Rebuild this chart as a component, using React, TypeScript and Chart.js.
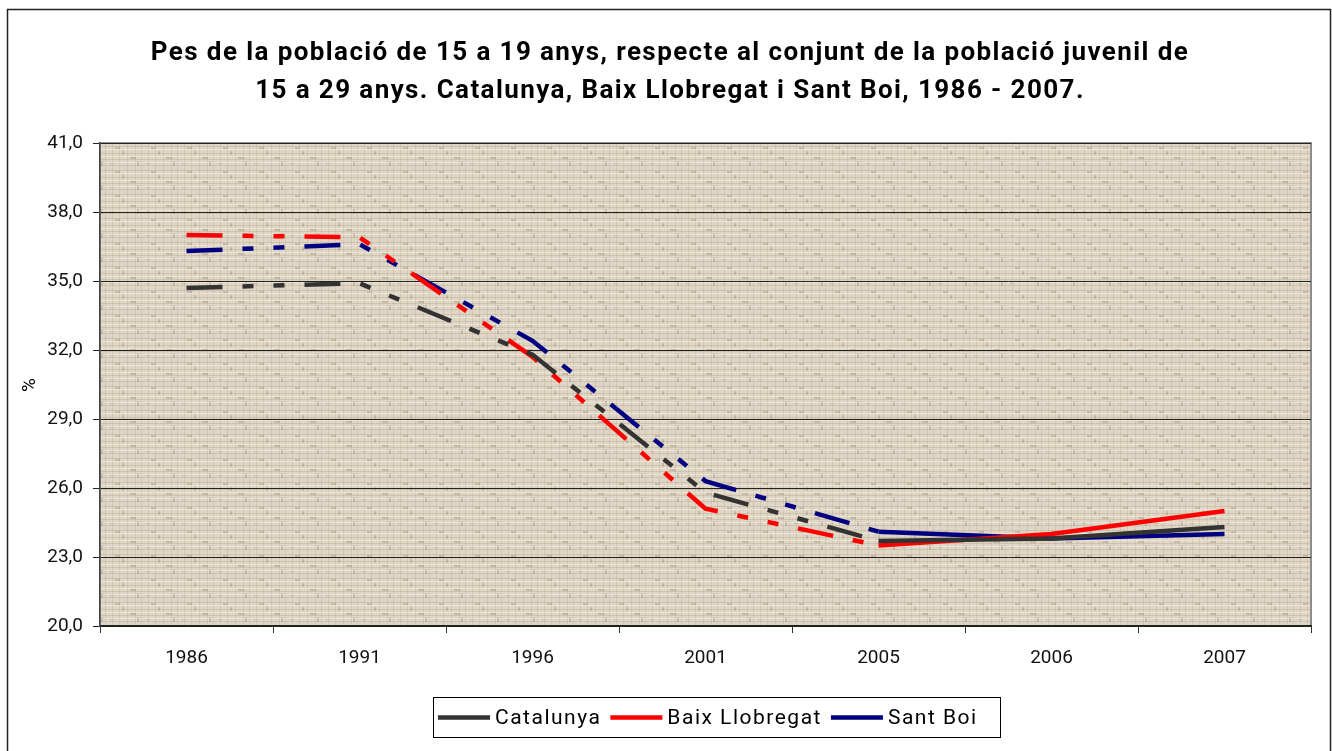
import React, { useEffect, useRef } from "react";
import { Chart, registerables } from "chart.js";

Chart.register(...registerables);

const years = ["1986", "1991", "1996", "2001", "2005", "2006", "2007"];
const catalunya = [34.7, 34.9, 31.8, 25.8, 23.7, 23.8, 24.3];
const baixLlobregat = [37.0, 36.9, 31.7, 25.1, 23.5, 24.0, 25.0];
const santBoi = [36.3, 36.6, 32.4, 26.3, 24.1, 23.8, 24.0];
const seriesNames = ["Catalunya", "Baix Llobregat", "Sant Boi"];
const seriesColors = ["#333333", "#FF0000", "#000080"];
const titleLines = [
  "Pes de la població de 15 a 19 anys, respecte al conjunt de la població juvenil de",
  "15 a 29 anys. Catalunya, Baix Llobregat i Sant Boi, 1986 - 2007.",
];
const yAxisTitle = "%";
const lastDashedIndex = 4;

const FONT = "Roboto, 'DejaVu Sans', sans-serif";
const DASH = [36, 20, 11, 20, 11, 20];

function makePattern(ctx: CanvasRenderingContext2D) {
  const c = document.createElement("canvas");
  c.width = 36;
  c.height = 24;
  const g = c.getContext("2d")!;
  g.fillStyle = "#DFD6C5";
  g.fillRect(0, 0, 36, 24);
  g.fillStyle = "rgba(150,128,105,0.22)";
  [2, 9, 15, 21].forEach((r) => g.fillRect(0, r, 36, 1));
  g.fillStyle = "rgba(150,128,105,0.16)";
  [4, 11, 19, 27, 33].forEach((col) => g.fillRect(col, 0, 1, 24));
  g.fillStyle = "rgba(255,255,250,0.35)";
  [5, 12, 18].forEach((r) => g.fillRect(0, r, 36, 1));
  g.fillStyle = "rgba(110,92,75,0.22)";
  [[7, 3, 5, 2], [22, 13, 6, 2], [14, 7, 2, 4], [29, 17, 2, 5], [2, 19, 4, 1]].forEach(([x, y, w, h]) =>
    g.fillRect(x, y, w, h)
  );
  return ctx.createPattern(c, "repeat");
}

const decorPlugin = {
  id: "decor",
  beforeDraw(chart: any) {
    const { ctx, chartArea } = chart;
    ctx.save();
    ctx.fillStyle = "#FFFFFF";
    ctx.fillRect(0, 0, chart.width, chart.height);
    const pat = makePattern(ctx);
    ctx.fillStyle = pat || "#DFD6C5";
    ctx.fillRect(chartArea.left, chartArea.top, chartArea.right - chartArea.left, chartArea.bottom - chartArea.top);
    ctx.strokeStyle = "#8C8C8C";
    ctx.lineWidth = 2;
    ctx.strokeRect(chartArea.left, chartArea.top, chartArea.right - chartArea.left, chartArea.bottom - chartArea.top);
    ctx.restore();
  },
  afterDraw(chart: any) {
    const { ctx } = chart;
    ctx.save();
    // outer frame
    ctx.strokeStyle = "#222222";
    ctx.lineWidth = 1.5;
    ctx.strokeRect(7.5, 9.5, 1323, 780);
    // title
    ctx.fillStyle = "#000000";
    ctx.font = `bold 26px ${FONT}`;
    (ctx as any).letterSpacing = "1.4px";
    ctx.textAlign = "center";
    ctx.textBaseline = "middle";
    ctx.fillText(titleLines[0], 670, 53);
    ctx.fillText(titleLines[1], 670, 91);
    (ctx as any).letterSpacing = "0px";
    // y axis title
    ctx.save();
    ctx.translate(30, 385);
    ctx.rotate(-Math.PI / 2);
    ctx.font = `19px ${FONT}`;
    ctx.fillText(yAxisTitle, 0, 0);
    ctx.restore();
    // legend
    ctx.font = `21px ${FONT}`;
    (ctx as any).letterSpacing = "1.5px";
    ctx.textAlign = "left";
    ctx.strokeStyle = "#000000";
    ctx.lineWidth = 1;
    ctx.strokeRect(433.5, 697.5, 567, 40);
    let x = 438;
    const y = 717.5;
    seriesNames.forEach((name, i) => {
      ctx.strokeStyle = seriesColors[i];
      ctx.lineWidth = 4.5;
      ctx.beginPath();
      ctx.moveTo(x, y);
      ctx.lineTo(x + 52, y);
      ctx.stroke();
      x += 57;
      ctx.fillStyle = "#000000";
      ctx.fillText(name, x, y + 1);
      x += ctx.measureText(name).width + 9;
    });
    ctx.restore();
  },
};

export default function App() {
  const ref = useRef<HTMLCanvasElement>(null);
  useEffect(() => {
    const data = [catalunya, baixLlobregat, santBoi];
    const chart = new Chart(ref.current!, {
      type: "line",
      data: {
        labels: years,
        datasets: data.map((d, i) => ({
          label: seriesNames[i],
          data: d,
          borderColor: seriesColors[i],
          backgroundColor: seriesColors[i],
          borderWidth: 4.5,
          pointRadius: 0,
          tension: 0,
          fill: false,
          borderCapStyle: "butt",
          segment: {
            borderDash: (ctx: any) => (ctx.p0DataIndex < lastDashedIndex ? DASH : []),
          },
        })),
      },
      options: {
        animation: false,
        responsive: false,
        devicePixelRatio: 1,
        layout: { padding: { left: 0, top: 143, right: 21, bottom: 75 } },
        plugins: {
          legend: { display: false },
          title: { display: false },
          tooltip: { enabled: false },
        },
        scales: {
          x: {
            offset: true,
            afterFit: (s: any) => {
              s.height = 50;
            },
            grid: {
              offset: true,
              drawOnChartArea: false,
              drawTicks: true,
              tickLength: 7,
              color: "#333333",
            },
            border: { color: "#222222", width: 1.5 },
            ticks: { color: "#111111", font: { family: FONT, size: 19 }, padding: 14, maxRotation: 0 },
          },
          y: {
            min: 20,
            max: 41,
            afterFit: (s: any) => {
              s.width = 100;
            },
            afterBuildTicks: (s: any) => {
              const t = [];
              for (let v = 20; v <= 41; v += 3) t.push({ value: v });
              s.ticks = t;
            },
            grid: { color: "#222222", lineWidth: 1, tickLength: 7 },
            border: { color: "#444444", width: 1.5 },
            ticks: {
              color: "#111111",
              font: { family: FONT, size: 19 },
              padding: 10,
              callback: (v: any) => Number(v).toFixed(1).replace(".", ","),
            },
          },
        },
      },
      plugins: [decorPlugin],
    });
    return () => chart.destroy();
  }, []);
  return (
    <div style={{ position: "fixed", left: 0, top: 0, width: 1332, height: 751, background: "#fff" }}>
      <canvas ref={ref} width={1332} height={751} />
    </div>
  );
}
